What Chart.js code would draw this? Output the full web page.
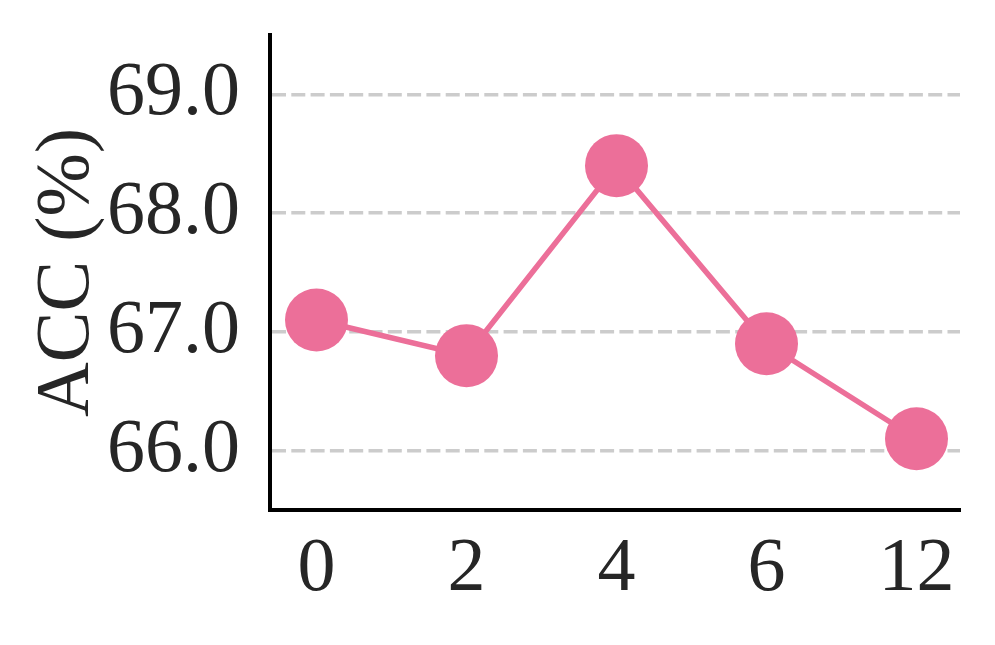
<!DOCTYPE html>
<html><head><meta charset="utf-8">
<script src="https://cdn.jsdelivr.net/npm/chart.js@4.4.0/dist/chart.umd.min.js"></script>
<style>html,body{margin:0;padding:0;background:#fff}#wrap{width:995px;height:645px}</style>
</head><body><div id="wrap"><canvas id="c" width="995" height="645"></canvas></div>
<script>
const categories = ["0", "2", "4", "6", "12"];
const accValues = [67.1, 66.8, 68.4, 66.9, 66.1];
const yTicks = [66, 67, 68, 69];
const yLabel = "ACC (%)";

const FONT = "'Liberation Serif', 'Times New Roman', serif";
const TXT = '#262626';
const PINK = '#EC6F99';

new Chart(document.getElementById('c'), {
  type: 'line',
  data: {
    datasets: [{
      data: accValues.map((v, i) => ({x: i, y: v})),
      borderColor: PINK, backgroundColor: PINK,
      pointBackgroundColor: PINK, pointBorderWidth: 0,
      pointRadius: 31.5, pointHoverRadius: 31.5,
      borderWidth: 5.5, tension: 0, clip: false
    }]
  },
  options: {
    responsive: false, animation: false,
    layout: {padding: {top: 35, right: 35, left: 0, bottom: 0}},
    plugins: {legend: {display: false}, tooltip: {enabled: false}},
    scales: {
      x: {
        type: 'linear', min: -0.31, max: 4.29,
        afterBuildTicks: s => { s.ticks = categories.map((c, i) => ({value: i})); },
        afterFit: s => { s.height = 135; s.paddingLeft = 0; s.paddingRight = 0; },
        ticks: {
          callback: (v) => categories[v] ?? '',
          font: {family: FONT, size: 76}, color: TXT, padding: 14, maxRotation: 0, autoSkip: false
        },
        grid: {display: false, drawTicks: false},
        border: {display: true, color: '#000', width: 4}
      },
      y: {
        min: 65.5, max: 69.5,
        afterBuildTicks: s => { s.ticks = yTicks.map(v => ({value: v})); },
        afterFit: s => { s.width = 270; s.paddingTop = 0; s.paddingBottom = 0; },
        ticks: {
          callback: v => v.toFixed(1),
          font: {family: FONT, size: 76}, color: TXT, padding: 30
        },
        grid: {display: true, drawTicks: false, color: '#cccccc', lineWidth: 3.5},
        border: {display: true, color: '#000', width: 4, dash: [14, 5.3]},
        title: {display: true, text: yLabel, font: {family: FONT, size: 76}, color: TXT, padding: {top: 22, bottom: 0}}
      }
    }
  }
});
</script></body></html>
